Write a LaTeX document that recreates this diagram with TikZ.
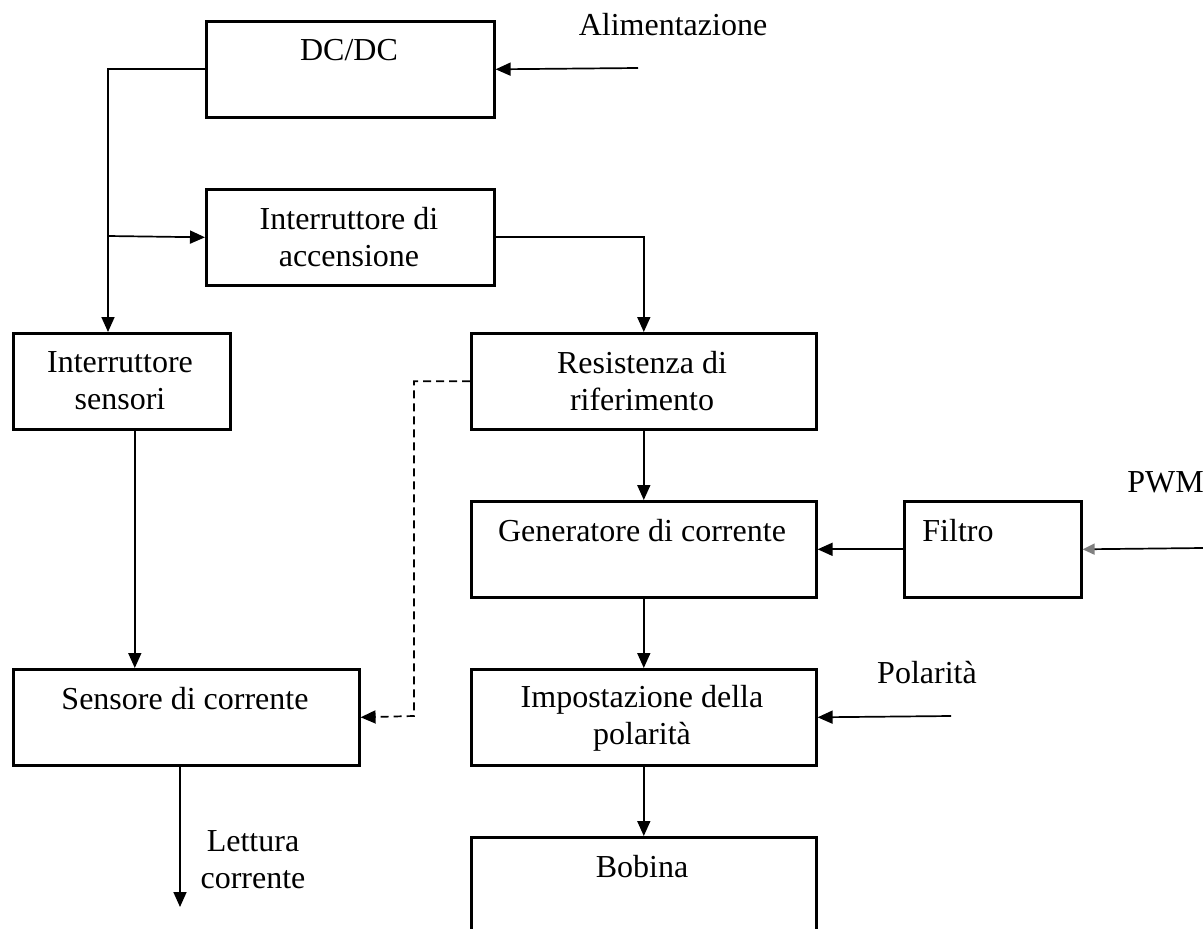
\documentclass[tikz,border=0pt]{standalone}
\usepackage{fontspec}
\setmainfont{Liberation Serif}
\usetikzlibrary{arrows.meta}
\begin{document}
\begin{tikzpicture}[x=1pt,y=-1pt,
  box/.style={draw, line width=2.6pt, inner sep=0pt, anchor=north west},
  conn/.style={line width=1.7pt},
  tip/.style={-{Triangle[length=15pt,width=13pt]}},
  arr/.style={conn, tip},
  dashline/.style={conn, dash pattern=on 8pt off 5pt},
  lbl/.style={inner sep=0pt, font=\fontsize{32}{37}\selectfont, align=center},
]
\useasboundingbox (0,0) rectangle (1203,929);
\clip (0,0) rectangle (1203,929);

% boxes
\node[box, minimum width=288pt, minimum height=96pt] (dcdc) at (205,20) {};
\node[box, minimum width=288pt, minimum height=96pt] (acc)  at (205,188) {};
\node[box, minimum width=217pt, minimum height=96pt] (isens) at (12,332) {};
\node[box, minimum width=345pt, minimum height=96pt] (res)  at (470,332) {};
\node[box, minimum width=345pt, minimum height=96pt] (gen)  at (470,500) {};
\node[box, minimum width=177pt, minimum height=96pt] (fil)  at (903,500) {};
\node[box, minimum width=346pt, minimum height=96pt] (sens) at (12,668) {};
\node[box, minimum width=345pt, minimum height=96pt] (imp)  at (470,668) {};
\node[box, minimum width=345pt, minimum height=130pt] (bob) at (470,836) {};

% texts
\node[lbl] (tdc)   at (349,50)  {DC/DC};
\node[lbl] (tacc)  at (349,237) {Interruttore di\\accensione};
\node[lbl] (tis)   at (120,381) {Interruttore\\sensori};
\node[lbl] (tres)  at (642,381) {Resistenza di\\riferimento};
\node[lbl] (tgen)  at (642,531) {Generatore di corrente};
\node[lbl] (tfil)  at (958,531) {Filtro};
\node[lbl] (tsens) at (185,699) {Sensore di corrente};
\node[lbl] (timp)  at (642,718) {Impostazione della\\polarità};
\node[lbl] (tbob)  at (642,867) {Bobina};
\node[lbl] (talim) at (673,25)  {Alimentazione};
\node[lbl, anchor=east] (tpwm) at (1204,482) {PWM};
\node[lbl] (tpol)  at (927,673) {Polarità};
\node[lbl] (tlett) at (253,860) {Lettura\\corrente};

% free ends
\coordinate (alim) at (638,68);
\coordinate (j1) at (108,236);
\coordinate (pwm) at (1203,548);
\coordinate (pol) at (951,716);
\coordinate (lett) at (180,907);
\coordinate (d1) at (414,716);

% connectors
\draw[arr] (alim) -- (dcdc.east);
\draw[arr] (dcdc.west) -| (j1) -- (isens.north -| j1);
\draw[arr] (j1) -- (acc.west);
\draw[arr] (acc.east) -| (res.north);
\draw[arr] (res.south) -- (gen.north);
\draw[arr] (fil.west) -- (gen.east);
\draw[conn, -{Triangle[length=12pt,width=11pt,color=gray]}] (pwm) -- (fil.east);
\draw[arr] (gen.south) -- (imp.north);
\draw[arr] (pol) -- (imp.east);
\draw[arr] (imp.south) -- (bob.north);
\draw[arr] ([xshift=13pt]isens.south) -- ([xshift=13pt]isens.south |- sens.north);
\draw[arr] (sens.south -| lett) -- (lett);
\draw[dashline, tip] (res.west) -| (d1) -- (sens.east);
\end{tikzpicture}
\end{document}
